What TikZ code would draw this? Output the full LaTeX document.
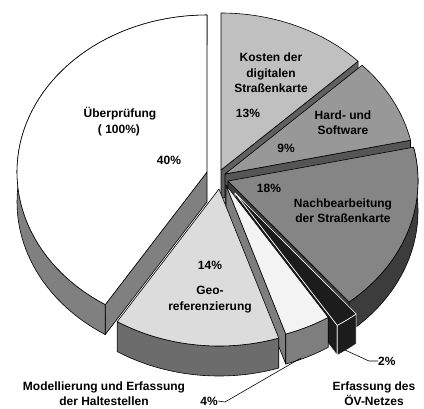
\documentclass[tikz,border=0pt]{standalone}
\usepackage{fontspec}
\setmainfont{Liberation Sans}
% Pie geometry: every slice has its own apex (#1,#2); the rim is an
% ellipse of half-axes 190 x 157, angles run clockwise from 12 o'clock.
\newcommand{\pieTop}[5]{\path[face,#5] (#1,#2) -- plot[domain=#3:#4,samples=60] ({#1+rx(\x)},{#2+ry(\x)}) -- cycle;}
\newcommand{\pieWall}[5]{\path[face,#5] plot[domain=#3:#4,samples=60] ({#1+rx(\x)},{#2+ry(\x)}) -- plot[domain=#4:#3,samples=60] ({#1+rx(\x)},{#2+ry(\x)+\pieDepth}) -- cycle;}
\newcommand{\pieCut}[4]{\path[face,#4] (#1,#2) -- ({#1+rx(#3)},{#2+ry(#3)}) -- ({#1+rx(#3)},{#2+ry(#3)+\pieDepth}) -- (#1,{#2+\pieDepth}) -- cycle;}
\def\pieDepth{30}
\definecolor{ktop}{HTML}{C0C0C0}
\definecolor{kcut}{HTML}{606060}
\definecolor{htop}{HTML}{989898}
\definecolor{hcut}{HTML}{555555}
\definecolor{ntop}{HTML}{858585}
\definecolor{nside}{HTML}{3C3C3C}
\definecolor{oside}{HTML}{1C1C1C}
\definecolor{mtop}{HTML}{F3F3F3}
\definecolor{mside}{HTML}{7E7E7E}
\definecolor{gtop}{HTML}{DCDCDC}
\definecolor{gside}{HTML}{6C6C6C}
\definecolor{wside}{HTML}{808080}
\begin{document}
\begin{tikzpicture}[x=1pt,y=-1pt,
  declare function={te(\t)=\t-2*(1-cos(\t)); rx(\t)=190*sin(te(\t)); ry(\t)=-157*cos(te(\t));},
  face/.style={draw=black,line width=0.6pt,line join=round},
  lbl/.style={font=\fontsize{12}{15.5}\selectfont\bfseries,align=center,inner sep=0pt},
  leader/.style={draw=black,line width=0.6pt}]
\useasboundingbox[fill=white] (0,0) rectangle (424,408);

% Kosten der digitalen Straßenkarte (13%)
\pieCut{221}{170}{46.8}{fill=kcut}
\pieTop{221}{170}{0}{46.8}{fill=ktop}
% Hard- und Software (9%)
\pieCut{225}{174}{79.2}{fill=hcut}
\pieTop{225}{174}{46.8}{79.2}{fill=htop}
% Überprüfung (40%)
\pieCut{207}{172}{216}{fill=wside}
\pieWall{207}{172}{216}{360}{fill=wside}
\pieTop{207}{172}{216}{360}{fill=white}
% Nachbearbeitung der Straßenkarte (18%)
\pieCut{228}{181}{144}{fill=nside}
\pieWall{228}{181}{79.2}{144}{fill=nside}
\pieTop{228}{181}{79.2}{144}{fill=ntop}
% Erfassung des ÖV-Netzes (2%)
\pieCut{235}{193}{151.2}{fill=oside,draw=white}
\pieWall{235}{193}{144}{151.2}{fill=oside,draw=white}
\pieTop{235}{193}{144}{151.2}{fill=oside,draw=white}
% Modellierung und Erfassung der Haltestellen (4%)
\pieCut{226}{185}{165.6}{fill=mside}
\pieWall{226}{185}{151.2}{165.6}{fill=mside}
\pieTop{226}{185}{151.2}{165.6}{fill=mtop}
% Georeferenzierung (14%)
\pieWall{219}{189}{165.6}{216}{fill=gside}
\pieTop{219}{189}{165.6}{216}{fill=gtop}

% labels on the slices
\node[lbl] (ueb) at (120,114) {Überprüfung};
\node[lbl] (uebp) at (119,130) {( 100\%)};
\node[lbl] (ueb40) at (169,160) {40\%};
\node[lbl] (kost) at (271,73) {Kosten der\\digitalen\\Straßenkarte};
\node[lbl] (kost13) at (248,113) {13\%};
\node[lbl] (hard) at (343,122.5) {Hard- und\\Software};
\node[lbl] (hard9) at (286,148) {9\%};
\node[lbl] (nach18) at (269,188) {18\%};
\node[lbl] (nach) at (343,210.5) {Nachbearbeitung\\der Straßenkarte};
\node[lbl] (geo14) at (210,265) {14\%};
\node[lbl] (geo) at (210,299.5) {Geo-\\referenzierung};

% outside labels with leaders
\node[lbl] (mod) at (104,393.5) {Modellierung und Erfassung\\der Haltestellen};
\node[lbl,anchor=east] (mod4) at (218,401) {4\%};
\node[lbl] (oev) at (374,393.5) {Erfassung des\\ÖV-Netzes};
\node[lbl,anchor=west] (oev2) at (378,361) {2\%};
\coordinate (modtip) at (301,358);
\coordinate (modbend) at (225,402);
\coordinate (oevtip) at (345,350);
\coordinate (oevbend) at (369,361);
\draw[leader] (mod4.east) -- (modbend) -- (modtip);
\draw[leader] (oev2.west) -- (oevbend) -- (oevtip);
\end{tikzpicture}
\end{document}
